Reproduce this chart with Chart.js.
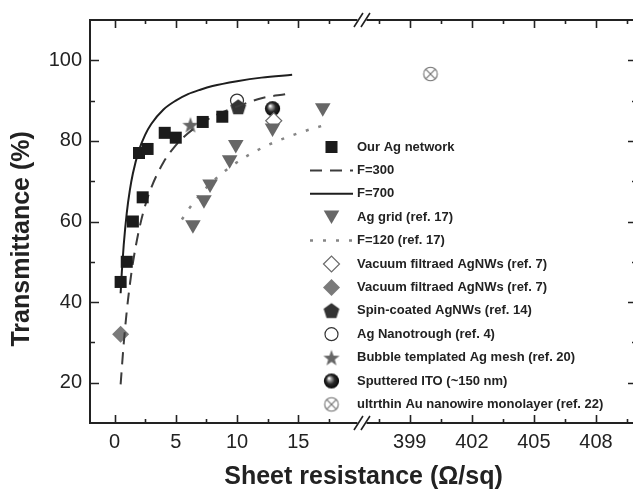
<!DOCTYPE html>
<html>
<head>
<meta charset="utf-8">
<script src="https://cdn.jsdelivr.net/npm/chart.js@4.4.1/dist/chart.umd.min.js"></script>
<style>
    html, body { margin: 0; padding: 0; background: #fff; overflow: hidden; }
    canvas { display: block; }
</style>
</head>
<body>
<!-- 오른쪽 테두리가 잘려 보이도록 창보다 조금 넓게 -->
<canvas id="resChart" width="640" height="490"></canvas>
<script>
// 측정값 (sheet resistance, transmittance)
const agNetworkR = [0.5, 1.0, 1.5, 2.3, 2.0, 2.7, 4.1, 5.0, 7.2, 8.8];
const agNetworkT = [45, 50, 60, 66, 77, 78, 82, 80.8, 84.7, 86];

const f300R = [0.5, 0.75, 1, 1.25, 1.5, 2, 2.5, 3, 4, 5, 6, 7, 8, 10, 12, 14];
const f300T = [19.6, 29.6, 37.7, 44.3, 49.7, 57.9, 63.9, 68.4, 74.7, 78.9, 81.9, 84.2, 86.0, 88.5, 90.6, 91.6];

const f700R = [0.5, 0.6, 0.75, 1, 1.25, 1.5, 2, 2.5, 3, 4, 5, 6, 7, 8, 10, 12, 14.5];
const f700T = [42.2, 47.6, 54.1, 62.1, 67.7, 71.9, 77.7, 81.5, 84.2, 87.8, 90.0, 91.6, 92.7, 93.6, 94.8, 95.7, 96.4];

const agGridR = [6.4, 7.3, 7.8, 9.4, 9.9, 12.9, 17.0];
const agGridT = [59.2, 65.4, 69.3, 75.3, 79.1, 83.2, 88.2];

const f120R = [5.5, 6, 7, 8, 9, 10, 11, 12, 13, 14, 15, 16, 17.6];
const f120T = [60.5, 62.8, 66.7, 69.9, 72.5, 74.7, 76.6, 78.2, 79.6, 80.8, 81.9, 82.9, 84.3];

const vacOpenR = [13.0];
const vacOpenT = [85.0];
const vacFilledR = [0.5];
const vacFilledT = [32.0];
const spinR = [10.1];
const spinT = [88.4];
const troughR = [10.0];
const troughT = [90.0];
const bubbleR = [6.2];
const bubbleT = [84.0];
const itoR = [12.9];
const itoT = [88.0];
const auWireR = [400.0];
const auWireT = [96.6];

const xMajorTicks = [0, 5, 10, 15, 399, 402, 405, 408];
const xMinorTicks = [2.5, 7.5, 12.5, 17.5, 397.5, 400.5, 403.5, 406.5, 409.5];
const yMajorTicks = [20, 40, 60, 80, 100];
const yMinorTicks = [30, 50, 70, 90];

// 끊어진 x축: 399 이후 구간은 오른쪽으로 옮겨서 그림
const RIGHT_ORIGIN = 399;
const RIGHT_AT = 24.1;
const RIGHT_STRETCH = 1.689;
const BREAK_AT = 20.2;

function axisX(v) {
    return v < 100 ? v : RIGHT_AT + (v - RIGHT_ORIGIN) * RIGHT_STRETCH;
}
function realX(u) {
    return u < 21 ? u : RIGHT_ORIGIN + (u - RIGHT_AT) / RIGHT_STRETCH;
}
function toPoints(rs, ts) {
    return rs.map((r, i) => ({ x: axisX(r), y: ts[i] }));
}

// 마커 그리기용 캔버스
function makeMarker(size, draw) {
    const c = document.createElement("canvas");
    c.width = size;
    c.height = size;
    draw(c.getContext("2d"), size / 2);
    return c;
}

const pentagonMarker = makeMarker(18, (g, m) => {
    g.beginPath();
    for (let i = 0; i < 5; i++) {
        const a = -Math.PI / 2 + (i * 2 * Math.PI) / 5;
        g.lineTo(m + Math.cos(a) * 8.3, m + 0.6 + Math.sin(a) * 8.3);
    }
    g.closePath();
    g.fillStyle = "#333";
    g.fill();
});

const starMarker = makeMarker(18, (g, m) => {
    g.beginPath();
    for (let i = 0; i < 10; i++) {
        const a = -Math.PI / 2 + (i * Math.PI) / 5;
        const r = i % 2 === 0 ? 8.5 : 3.5;
        g.lineTo(m + Math.cos(a) * r, m + 0.8 + Math.sin(a) * r);
    }
    g.closePath();
    g.fillStyle = "#666";
    g.fill();
});

const sphereMarker = makeMarker(17, (g, m) => {
    const grad = g.createRadialGradient(m - 2.5, m - 2.8, 0.4, m, m, 7.6);
    grad.addColorStop(0, "#ffffff");
    grad.addColorStop(0.22, "#9a9a9a");
    grad.addColorStop(0.55, "#2a2a2a");
    grad.addColorStop(1, "#050505");
    g.beginPath();
    g.arc(m, m, 7.6, 0, Math.PI * 2);
    g.fillStyle = grad;
    g.fill();
});

const crossCircleMarker = makeMarker(18, (g, m) => {
    g.strokeStyle = "#6e6e6e";
    g.lineWidth = 1.1;
    g.beginPath();
    g.arc(m, m, 6.8, 0, Math.PI * 2);
    g.stroke();
    g.beginPath();
    g.moveTo(m - 4.8, m - 4.8);
    g.lineTo(m + 4.8, m + 4.8);
    g.moveTo(m + 4.8, m - 4.8);
    g.lineTo(m - 4.8, m + 4.8);
    g.stroke();
});

const datasets = [
    {
        label: "Our Ag network",
        data: toPoints(agNetworkR, agNetworkT),
        pointStyle: "rect",
        pointRadius: 8.5,
        backgroundColor: "#1b1b1b",
        borderColor: "#1b1b1b",
        borderWidth: 0,
    },
    {
        label: "F=300",
        data: toPoints(f300R, f300T),
        showLine: true,
        pointRadius: 0,
        borderColor: "#3c3c3c",
        borderWidth: 2,
        borderDash: [12, 8],
        cubicInterpolationMode: "monotone",
    },
    {
        label: "F=700",
        data: toPoints(f700R, f700T),
        showLine: true,
        pointRadius: 0,
        borderColor: "#1e1e1e",
        borderWidth: 2,
        cubicInterpolationMode: "monotone",
    },
    {
        label: "Ag grid (ref. 17)",
        data: toPoints(agGridR, agGridT),
        pointStyle: "triangle",
        pointRotation: 180,
        pointRadius: 9,
        backgroundColor: "#676767",
        borderColor: "#676767",
        borderWidth: 0,
    },
    {
        label: "F=120 (ref. 17)",
        data: toPoints(f120R, f120T),
        showLine: true,
        pointRadius: 0,
        borderColor: "#858585",
        borderWidth: 2.5,
        borderDash: [3, 10],
        cubicInterpolationMode: "monotone",
    },
    {
        label: "Vacuum filtraed AgNWs (ref. 7)",
        data: toPoints(vacOpenR, vacOpenT),
        pointStyle: "rectRot",
        pointRadius: 8,
        backgroundColor: "#ffffff",
        borderColor: "#6a6a6a",
        borderWidth: 1.2,
    },
    {
        label: "Vacuum filtraed AgNWs (ref. 7)",
        data: toPoints(vacFilledR, vacFilledT),
        pointStyle: "rectRot",
        pointRadius: 8.5,
        backgroundColor: "#7a7a7a",
        borderColor: "#7a7a7a",
        borderWidth: 0,
    },
    {
        label: "Spin-coated AgNWs (ref. 14)",
        data: toPoints(spinR, spinT),
        pointStyle: pentagonMarker,
        backgroundColor: "#333",
        borderColor: "#333",
    },
    {
        label: "Ag Nanotrough (ref. 4)",
        data: toPoints(troughR, troughT),
        pointStyle: "circle",
        pointRadius: 6.5,
        backgroundColor: "#ffffff",
        borderColor: "#333",
        borderWidth: 1.2,
    },
    {
        label: "Bubble templated Ag mesh (ref. 20)",
        data: toPoints(bubbleR, bubbleT),
        pointStyle: starMarker,
        backgroundColor: "#666",
        borderColor: "#666",
    },
    {
        label: "Sputtered ITO (~150 nm)",
        data: toPoints(itoR, itoT),
        pointStyle: sphereMarker,
        backgroundColor: "#111",
        borderColor: "#111",
    },
    {
        label: "ultrthin Au nanowire monolayer (ref. 22)",
        data: toPoints(auWireR, auWireT),
        pointStyle: crossCircleMarker,
        backgroundColor: "#6e6e6e",
        borderColor: "#6e6e6e",
    },
];

// 테두리, 안쪽 눈금, 축 끊김 표시
const framePlugin = {
    id: "frame",
    afterDraw(chart) {
        const { ctx, chartArea: a, scales } = chart;
        const xs = scales.x;
        const ys = scales.y;
        const gx = xs.getPixelForValue(BREAK_AT);
        ctx.save();
        ctx.strokeStyle = "#222";
        ctx.lineWidth = 2;
        ctx.beginPath();
        ctx.moveTo(a.left, a.top - 1);
        ctx.lineTo(a.left, a.bottom + 1);
        ctx.moveTo(a.right, a.top - 1);
        ctx.lineTo(a.right, a.bottom + 1);
        [a.top, a.bottom].forEach((yy) => {
            ctx.moveTo(a.left, yy);
            ctx.lineTo(gx - 4.5, yy);
            ctx.moveTo(gx + 4.5, yy);
            ctx.lineTo(a.right, yy);
        });
        ctx.stroke();

        ctx.lineWidth = 1.6;
        ctx.beginPath();
        xMajorTicks.concat(xMinorTicks).forEach((v) => {
            const len = xMajorTicks.includes(v) ? 8 : 4;
            const px = Math.round(xs.getPixelForValue(axisX(v))) + 0.5;
            ctx.moveTo(px, a.bottom);
            ctx.lineTo(px, a.bottom - len);
            ctx.moveTo(px, a.top);
            ctx.lineTo(px, a.top + len);
        });
        yMajorTicks.concat(yMinorTicks).forEach((v) => {
            const len = yMajorTicks.includes(v) ? 9 : 5;
            const py = Math.round(ys.getPixelForValue(v)) + 0.5;
            ctx.moveTo(a.left, py);
            ctx.lineTo(a.left + len, py);
            ctx.moveTo(a.right, py);
            ctx.lineTo(a.right - len, py);
        });
        ctx.stroke();

        ctx.lineWidth = 1.6;
        ctx.beginPath();
        [a.top, a.bottom].forEach((yy) => {
            ctx.moveTo(gx - 8, yy + 7);
            ctx.lineTo(gx + 1, yy - 7);
            ctx.moveTo(gx - 1, yy + 7);
            ctx.lineTo(gx + 8, yy - 7);
        });
        ctx.stroke();
        ctx.restore();
    },
};

// 범례 (플롯 안쪽 세로 목록)
const LEGEND_MARK_X = 331.5;
const LEGEND_TEXT_X = 357;
const LEGEND_TOP = 147;
const LEGEND_STEP = 23.4;

const legendPlugin = {
    id: "insideLegend",
    afterDraw(chart) {
        const ctx = chart.ctx;
        ctx.save();
        ctx.textBaseline = "middle";
        chart.data.datasets.forEach((ds, i) => {
            const y = LEGEND_TOP + i * LEGEND_STEP;
            if (ds.showLine) {
                ctx.strokeStyle = ds.borderColor;
                ctx.lineWidth = ds.borderWidth;
                ctx.setLineDash(ds.borderDash || []);
                ctx.beginPath();
                ctx.moveTo(310, y);
                ctx.lineTo(353, y);
                ctx.stroke();
                ctx.setLineDash([]);
            } else if (ds.pointStyle instanceof HTMLCanvasElement) {
                const img = ds.pointStyle;
                ctx.drawImage(img, LEGEND_MARK_X - img.width / 2, y - img.height / 2);
            } else {
                ctx.fillStyle = ds.backgroundColor;
                ctx.strokeStyle = ds.borderColor;
                ctx.lineWidth = ds.borderWidth;
                const shift = ds.pointRotation === 180 ? -ds.pointRadius / 4 : 0;
                Chart.helpers.drawPoint(
                    ctx,
                    {
                        pointStyle: ds.pointStyle,
                        rotation: ds.pointRotation || 0,
                        radius: ds.pointRadius,
                        borderWidth: ds.borderWidth,
                    },
                    LEGEND_MARK_X,
                    y + shift
                );
            }
            ctx.fillStyle = "#222";
            ctx.font = "bold 13px 'Liberation Sans', Arial, sans-serif";
            ctx.fillText(ds.label, LEGEND_TEXT_X, y);
        });
        ctx.restore();
    },
};

const ctx = document.getElementById("resChart").getContext("2d");

new Chart(ctx, {
    type: "scatter",
    data: { datasets: datasets },
    options: {
        responsive: false,
        animation: false,
        devicePixelRatio: 1,
        events: [],
        layout: { autoPadding: false, padding: { top: 20, right: 3, left: 0, bottom: 0 } },
        scales: {
            x: {
                type: "linear",
                min: -2,
                max: 42.65,
                afterBuildTicks: (scale) => {
                    scale.ticks = xMajorTicks.map((v) => ({ value: axisX(v) }));
                },
                afterFit: (scale) => {
                    scale.height = 67;
                    scale.paddingLeft = 0;
                    scale.paddingRight = 0;
                },
                grid: { display: false, drawTicks: false },
                border: { display: false },
                ticks: {
                    autoSkip: false,
                    maxRotation: 0,
                    padding: 7,
                    color: "#222",
                    font: { family: "'Liberation Sans', Arial, sans-serif", size: 20 },
                    callback: (value) => String(Math.round(realX(value))),
                },
                title: {
                    display: true,
                    text: "Sheet resistance (Ω/sq)",
                    color: "#222",
                    padding: { top: 0, bottom: 0 },
                    font: { family: "'Liberation Sans', Arial, sans-serif", size: 25, weight: "bold", lineHeight: 1 },
                },
            },
            y: {
                min: 10,
                max: 110,
                afterBuildTicks: (scale) => {
                    scale.ticks = yMajorTicks.map((v) => ({ value: v }));
                },
                afterFit: (scale) => {
                    scale.width = 90;
                },
                grid: { display: false, drawTicks: false },
                border: { display: false },
                ticks: {
                    padding: 8,
                    color: "#222",
                    font: { family: "'Liberation Sans', Arial, sans-serif", size: 20 },
                },
                title: {
                    display: true,
                    text: "Transmittance (%)     ",
                    color: "#222",
                    padding: { top: 7, bottom: 0 },
                    font: { family: "'Liberation Sans', Arial, sans-serif", size: 25, weight: "bold" },
                },
            },
        },
        plugins: {
            legend: { display: false },
            tooltip: { enabled: false },
        },
    },
    plugins: [framePlugin, legendPlugin],
});
</script>
</body>
</html>
